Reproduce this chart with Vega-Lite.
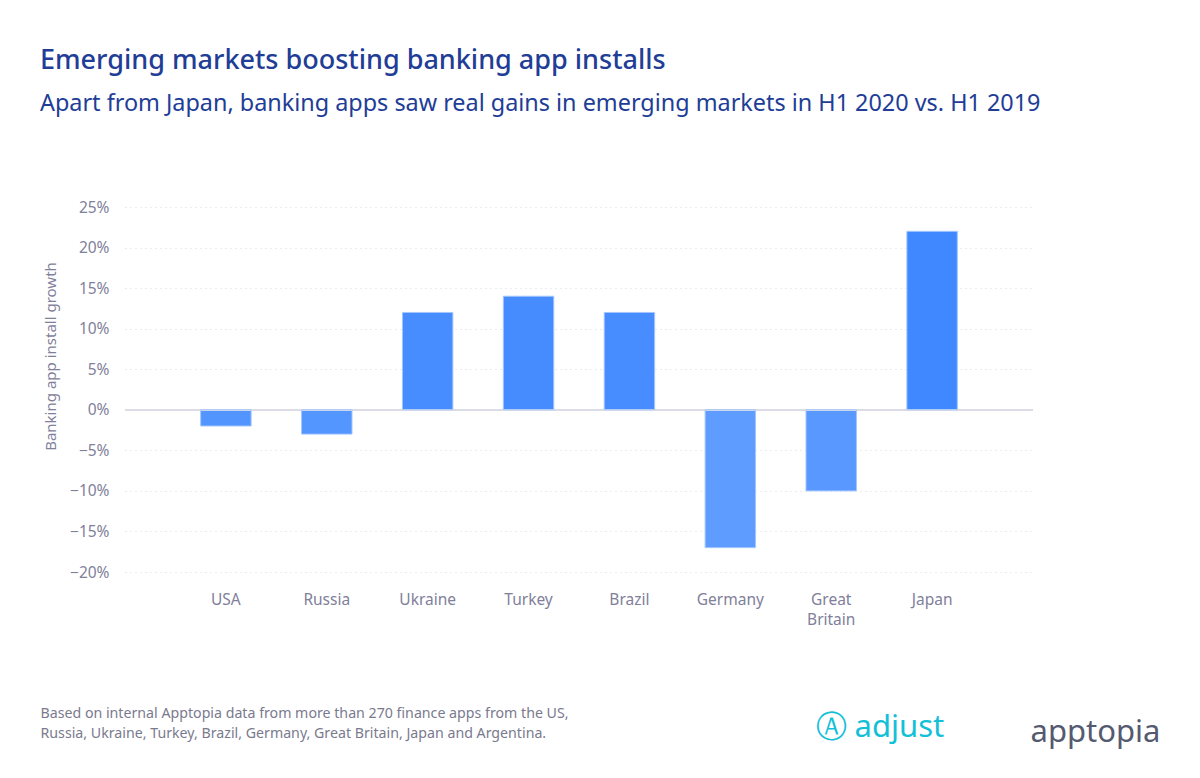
{
  "$schema": "https://vega.github.io/schema/vega-lite/v6.json",
  "autosize": "none",
  "width": 908,
  "height": 365,
  "padding": {"left": 125, "top": 207, "right": 167, "bottom": 206},
  "background": "#ffffff",
  "config": {
    "font": "Noto Sans",
    "view": {"stroke": null}
  },
  "title": {
    "text": "Emerging markets boosting banking app installs",
    "subtitle": "Apart from Japan, banking apps saw real gains in emerging markets in H1 2020 vs. H1 2019",
    "anchor": "start",
    "frame": "group",
    "dx": -85,
    "offset": 84,
    "color": "#213d96",
    "subtitleColor": "#213d96",
    "fontSize": 27,
    "fontWeight": 500,
    "subtitleFontSize": 23.4,
    "subtitleFontWeight": 400,
    "subtitlePadding": 18
  },
  "data": {
    "values": [
      {"country": "USA", "growth": -0.02},
      {"country": "Russia", "growth": -0.03},
      {"country": "Ukraine", "growth": 0.12},
      {"country": "Turkey", "growth": 0.14},
      {"country": "Brazil", "growth": 0.12},
      {"country": "Germany", "growth": -0.17},
      {"country": "Great Britain", "growth": -0.10},
      {"country": "Japan", "growth": 0.22}
    ]
  },
  "resolve": {"axis": {"x": "independent", "y": "independent"}},
  "layer": [
    {
      "mark": {"type": "bar"},
      "encoding": {
        "x": {
          "field": "country",
          "type": "nominal",
          "sort": null,
          "scale": {"paddingInner": 0.5, "paddingOuter": 0.75},
          "axis": {
            "orient": "bottom",
            "domain": false,
            "ticks": false,
            "labelAngle": 0,
            "labelPadding": 20,
            "labelFontSize": 15.5,
            "labelColor": "#80809a",
            "labelLineHeight": 20,
            "labelExpr": "datum.value == 'Great Britain' ? ['Great', 'Britain'] : datum.value",
            "title": [
              "Based on internal Apptopia data from more than 270 finance apps from the US,",
              "Russia, Ukraine, Turkey, Brazil, Germany, Great Britain, Japan and Argentina."
            ],
            "titleAnchor": "start",
            "titleAlign": "left",
            "titleX": -85,
            "titleY": 134,
            "titleFontSize": 14.2,
            "titleFontWeight": 400,
            "titleColor": "#7a7a8e",
            "titleLineHeight": 20
          }
        },
        "y": {
          "field": "growth",
          "type": "quantitative",
          "scale": {"domain": [-0.2, 0.25], "nice": false},
          "axis": {
            "orient": "left",
            "format": ".0%",
            "values": [-0.2, -0.15, -0.1, -0.05, 0, 0.05, 0.1, 0.15, 0.2, 0.25],
            "domain": false,
            "ticks": false,
            "labelPadding": 16,
            "labelFontSize": 15.5,
            "labelColor": "#80809a",
            "grid": true,
            "gridColor": "#d6d6e0",
            "gridDash": [1, 4],
            "title": "Banking app install growth",
            "titleFontSize": 15,
            "titleFontWeight": 400,
            "titleColor": "#80809a",
            "titleX": -67,
            "titleY": 149,
            "titleAlign": "center"
          }
        },
        "color": {
          "field": "growth",
          "type": "quantitative",
          "scale": {"domain": [-0.17, 0.22], "range": ["#5e9dff", "#3f88ff"]},
          "legend": null
        }
      }
    },
    {
      "mark": {"type": "rule", "color": "#dcdce6", "strokeWidth": 1.5},
      "encoding": {"y": {"datum": 0, "type": "quantitative", "axis": null}}
    },
    {
      "mark": {"type": "bar", "fill": null, "fillOpacity": 0, "stroke": "#a3c6ff", "strokeWidth": 1},
      "encoding": {
        "x": {
          "field": "country",
          "type": "nominal",
          "sort": null,
          "axis": {
            "orient": "top",
            "domain": false,
            "ticks": false,
            "labels": false,
            "title": "Ⓐ adjust",
            "titleAnchor": "start",
            "titleAlign": "left",
            "titleX": 690,
            "titleY": 536,
            "titleFontSize": 31,
            "titleFontWeight": 400,
            "titleColor": "#12c0d8"
          }
        },
        "y": {
          "field": "growth",
          "type": "quantitative",
          "axis": {
            "orient": "right",
            "domain": false,
            "ticks": false,
            "labels": false,
            "grid": false,
            "title": "apptopia",
            "titleAngle": 0,
            "titleAlign": "left",
            "titleBaseline": "alphabetic",
            "titleX": -3,
            "titleY": 534,
            "titleFontSize": 31,
            "titleFontWeight": 400,
            "titleColor": "#545a70"
          }
        }
      }
    }
  ]
}
